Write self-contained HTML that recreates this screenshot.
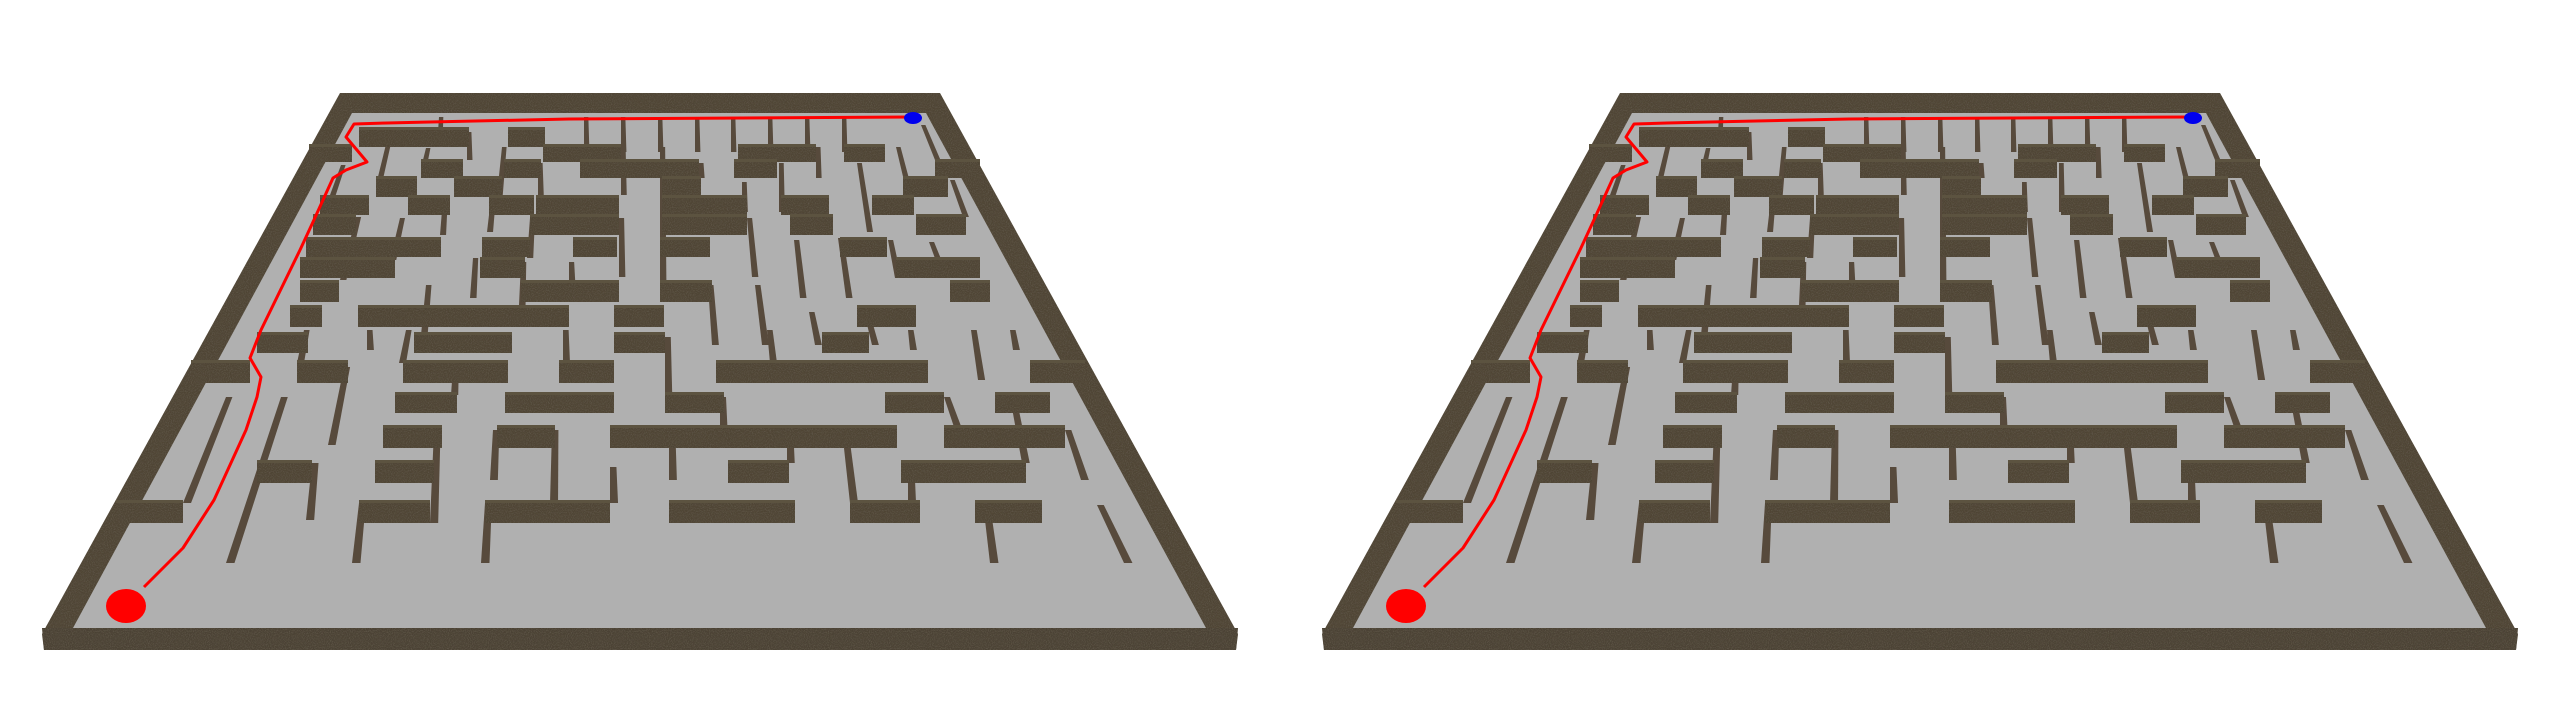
<!DOCTYPE html>
<html><head><meta charset="utf-8"><style>
html,body{margin:0;padding:0;background:#fff;width:2560px;height:720px;overflow:hidden}
svg{display:block}
</style></head><body>
<svg id="scene" width="2560" height="720" viewBox="0 0 2560 720" xmlns="http://www.w3.org/2000/svg">
<defs>
<filter id="grain" x="0" y="0" width="100%" height="100%">
<feTurbulence type="fractalNoise" baseFrequency="0.95" numOctaves="2" seed="3" result="n"/>
<feColorMatrix in="n" type="matrix" values="0 0 0 0 0.12  0 0 0 0 0.10  0 0 0 0 0.07  0 0 0 2.2 -0.9" result="c"/>
<feComposite in="c" in2="SourceGraphic" operator="in" result="t"/>
<feMerge><feMergeNode in="SourceGraphic"/><feMergeNode in="t"/></feMerge>
</filter>
</defs>
<g id="maze-left"></g>
<g id="maze-right" transform="translate(1280,0)"></g>
</svg>
<script>
// horizontal wall front faces: [x1, x2, yTop, yBottom]
const hWalls = [
[359,469,130,147],[508,545,130,147],
[543,621,147,162],[738,816,147,162],[844,885,147,162],[309,352,147,162],
[421,463,162,178],[504,541,162,178],[580,699,162,178],[734,777,162,178],[935,980,162,178],
[376,417,179,197],[454,502,179,197],[662,701,179,197],[903,948,179,197],
[320,369,198,215],[408,450,198,215],[489,534,198,215],[536,619,198,215],[662,747,198,215],[781,829,198,215],[872,914,198,215],
[313,356,217,235],[530,619,217,235],[662,747,217,235],[790,833,217,235],[916,966,217,235],
[306,441,240,257],[482,530,240,257],[573,617,240,257],[660,710,240,257],[840,887,240,257],
[300,395,260,278],[480,525,260,278],[896,980,260,278],
[300,339,283,302],[521,619,283,302],[660,712,283,302],[950,990,283,302],
[290,322,308,327],[358,569,308,327],[614,664,308,327],[857,916,308,327],
[257,308,335,353],[414,512,335,353],[614,665,335,353],[822,869,335,353],
[191,250,363,383],[297,348,363,383],[403,508,363,383],[559,614,363,383],[716,928,363,383],[1030,1085,363,383],
[395,457,395,413],[505,614,395,413],[665,724,395,413],[885,944,395,413],[995,1050,395,413],
[383,442,428,448],[497,555,428,448],[610,897,428,448],[944,1065,428,448],
[257,312,463,483],[375,434,463,483],[728,789,463,483],[901,1026,463,483],
[116,183,503,523],[359,430,503,523],[485,610,503,523],[669,795,503,523],[850,920,503,523],[975,1042,503,523]
];
// vertical walls: [xTop, yTop, xBottom, yBottom]
const vWalls = [
[439,117,437,147],[584,117,584,152],[621,117,621,152],[658,117,658,152],[695,117,695,152],[731,117,731,152],[768,117,768,152],[805,117,805,152],[842,117,842,152],[921,125,935,160],
[389,132,376,185],[426,148,421,168],[467,132,467,160],[502,147,497,195],[538,163,538,195],[621,147,621,195],[660,147,660,285],[699,163,699,178],[742,182,742,212],[779,163,779,212],[816,147,816,178],[857,163,867,232],[896,147,905,185],[950,180,963,217],
[341,165,330,195],[356,217,340,280],[400,218,390,260],[443,198,440,235],[491,198,487,232],[530,218,527,258],[619,218,619,277],[747,218,752,277],[794,240,800,298],[838,238,846,298],[888,240,895,278],[929,242,940,272],
[473,258,470,298],[521,262,519,305],[569,262,569,285],[426,285,420,345],[708,285,712,345],[755,285,762,345],[809,312,815,345],[864,312,872,345],
[304,330,297,363],[406,330,399,363],[367,330,367,350],[563,330,563,363],[665,337,665,395],[720,397,720,428],[767,330,770,363],[908,330,910,350],[971,330,978,380],[1010,330,1013,350],
[453,367,451,395],[344,367,328,445],[281,397,226,563],[226,397,183,503],[312,463,306,520],[434,430,430,523],[359,503,352,563],[493,430,490,480],[552,430,550,503],[610,467,610,503],[485,503,481,563],[669,430,669,480],[787,430,787,463],[842,430,850,503],[908,467,908,503],[944,397,955,430],[1010,397,1022,463],[1065,430,1081,480],[983,503,990,563],[1097,505,1124,563]
];
const pathX = [144,183,214,246,257,261,250,261,300,313,333,346,367,346,354,387,430,569,911];
const pathY = [587,548,500,430,397,377,358,330,250,222,178,170,162,137,124,123,122,119,117];

const NS = 'http://www.w3.org/2000/svg';
function mk(tag, attrs, parent){
  const e = document.createElementNS(NS, tag);
  for (const k in attrs) e.setAttribute(k, attrs[k]);
  parent.appendChild(e);
  return e;
}
function build(g){
  const board = mk('polygon',{points:'340,93 940,93 1238,634 1236,650 44,650 42,634',fill:'#4f4536',filter:'url(#grain)'},g);
  
  
  const floor = mk('polygon',{points:'352,113 926,113 1206,628 73,628',fill:'#b0b0b0'},g);
  
  
  const front = mk('polygon',{points:'42,628 1238,628 1236,650 44,650',fill:'#4c4234',filter:'url(#grain)'},g);
  
  
  for (const w of vWalls){
    const t = (w[3]-93)/540, wd = 5 + 4*t;
    const p = mk('polygon',{points:`${w[0]},${w[1]} ${w[2]},${w[3]} ${w[2]+wd},${w[3]} ${w[0]+wd*0.8},${w[1]}`,fill:'#574a3c'},g);
    
    
  }
  for (const w of hWalls){
    const top = mk('rect',{x:w[0],y:w[2]-3,width:w[1]-w[0],height:3,fill:'#5c5340'},g);
    
    
    const r = mk('rect',{x:w[0],y:w[2],width:w[1]-w[0],height:w[3]-w[2],fill:'#4f4536',filter:'url(#grain)'},g);
    
    
  }
  let d = '';
  for (let i=0;i<pathX.length;i++) d += (i?'L':'M') + pathX[i] + ',' + pathY[i];
  const path = mk('path',{d:d,fill:'none',stroke:'#ff0000','stroke-width':3,'stroke-linejoin':'round'},g);
  
  
  const s = mk('ellipse',{cx:126,cy:606,rx:20,ry:17,fill:'#ff0000'},g);
  
  
  const e = mk('ellipse',{cx:913,cy:118,rx:9,ry:6,fill:'#0000ee'},g);
  
  
}
build(document.getElementById('maze-left'));
build(document.getElementById('maze-right'));
</script>
</body></html>
